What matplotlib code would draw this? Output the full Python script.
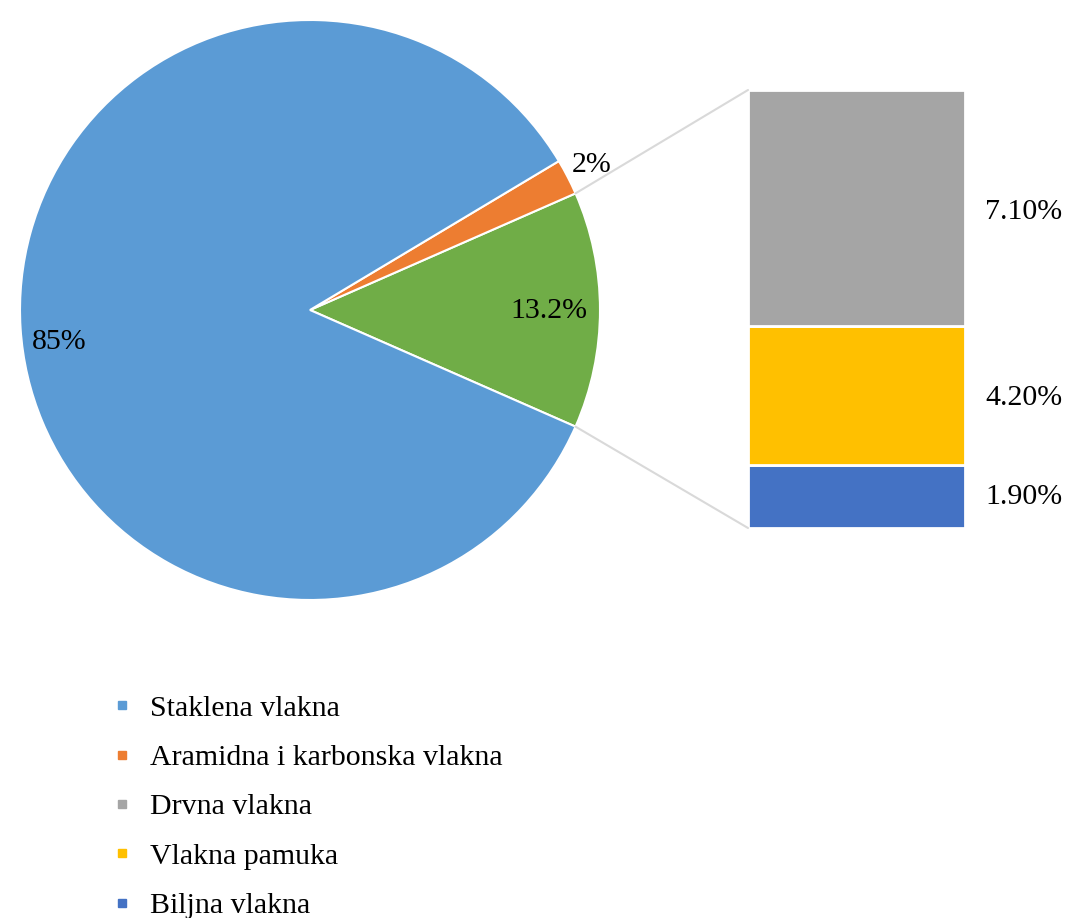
import matplotlib.pyplot as plt
from matplotlib.lines import Line2D
from matplotlib.patches import ConnectionPatch
import numpy as np

plt.rcParams['font.family'] = ['Liberation Serif', 'DejaVu Serif']

# pie data
pie_labels = ['Staklena vlakna', 'Aramidna i karbonska vlakna', 'Prirodna vlakna']
pie_values = [85, 2, 13.2]
pie_texts = ['85%', '2%', '13.2%']
pie_colors = ['#5B9BD5', '#ED7D31', '#70AD47']

# bar (breakdown of natural fibres), bottom to top
bar_labels = ['Biljna vlakna', 'Vlakna pamuka', 'Drvna vlakna']
bar_values = [1.9, 4.2, 7.1]
bar_texts = ['1.90%', '4.20%', '7.10%']
bar_colors = ['#4472C4', '#FFC000', '#A5A5A5']

legend_labels = ['Staklena vlakna', 'Aramidna i karbonska vlakna', 'Drvna vlakna',
                 'Vlakna pamuka', 'Biljna vlakna']
legend_colors = ['#5B9BD5', '#ED7D31', '#A5A5A5', '#FFC000', '#4472C4']

FS = 21.5
W, H = 1066, 918
fig = plt.figure(figsize=(W / 100, H / 100), dpi=100)

# pie axes: centre (310, 310) px, radius 290 px
ax = fig.add_axes([20 / W, (H - 600) / H, 580 / W, 580 / H])
total = sum(pie_values)
green_angle = pie_values[2] / total * 360
vals = [pie_values[2], pie_values[1], pie_values[0]]
cols = [pie_colors[2], pie_colors[1], pie_colors[0]]
wedges, _ = ax.pie(vals, colors=cols, startangle=-green_angle / 2,
                   counterclock=True, radius=1,
                   wedgeprops=dict(edgecolor='white', linewidth=1.5))
ax.set_xlim(-1, 1)
ax.set_ylim(-1, 1)
ax.set_aspect('equal')

ax.text(-0.866, -0.11, pie_texts[0], fontsize=FS, ha='center', va='center')
ax.text(0.972, 0.50, pie_texts[1], fontsize=FS, ha='center', va='center')
ax.text(0.824, -0.003, pie_texts[2], fontsize=FS, ha='center', va='center')

# bar axes: x 748-965, y 90-528 px
bx = fig.add_axes([748 / W, (H - 528) / H, 217 / W, 438 / H])
bottom = 0
for v, c in zip(bar_values, bar_colors):
    bx.bar(0.5, v, width=1, bottom=bottom, color=c, edgecolor='white', linewidth=2)
    bottom += v
bx.set_xlim(0, 1)
bx.set_ylim(0, sum(bar_values))
bx.axis('off')

# value labels to the right of the bar
label_y = [0.93, 3.92, 9.52]
for y, t in zip(label_y, bar_texts):
    bx.text(1.092, y, t, fontsize=FS, ha='left', va='center', clip_on=False)

# connector lines
a = np.deg2rad(green_angle / 2)
for sign, yb in [(1, sum(bar_values)), (-1, 0)]:
    con = ConnectionPatch(xyA=(np.cos(a), sign * np.sin(a)), coordsA=ax.transData,
                          xyB=(0, yb), coordsB=bx.transData,
                          color='#D9D9D9', linewidth=1.5)
    fig.add_artist(con)

handles = [Line2D([], [], linestyle='none', marker='s', markersize=5.5,
                  markerfacecolor=c, markeredgecolor=c) for c in legend_colors]
fig.legend(handles, legend_labels, loc='upper left',
           bbox_to_anchor=(112 / W, (H - 695) / H), frameon=False,
           fontsize=FS, handlelength=0.67, handletextpad=0.6,
           labelspacing=0.75, borderaxespad=0, borderpad=0)

fig.savefig('out.png', dpi=100)
